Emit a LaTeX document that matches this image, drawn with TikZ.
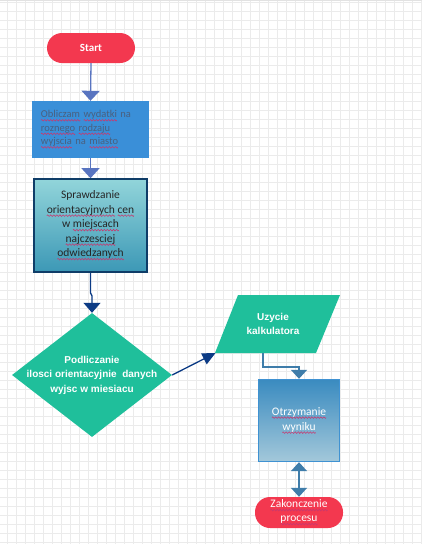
\documentclass[tikz,border=0pt]{standalone}
\usepackage{fontspec}
\setmainfont{Carlito}
\newfontfamily\arialf{Liberation Sans}
\usetikzlibrary{arrows.meta,shapes.geometric}
\definecolor{redc}{HTML}{F3384F}
\definecolor{boxa}{HTML}{3A8FD8}
\definecolor{boxatxt}{HTML}{4A607F}
\definecolor{boxbtop}{HTML}{92D5DA}
\definecolor{boxbbot}{HTML}{3C98B6}
\definecolor{boxbline}{HTML}{0F3D68}
\definecolor{tealc}{HTML}{1FBF9B}
\definecolor{navyc}{HTML}{0C3B85}
\definecolor{arra}{HTML}{5874C0}
\definecolor{arrc}{HTML}{3F7DAA}
\definecolor{boxctop}{HTML}{3A8BC0}
\definecolor{boxcbot}{HTML}{A3C8DA}
\definecolor{boxcline}{HTML}{3F92D2}
\definecolor{gridc}{HTML}{EBEBEB}
\definecolor{gridm}{HTML}{E2E2E2}
\definecolor{squig}{HTML}{C8386E}
\newsavebox\wavebox
\newsavebox\wordbox
\newcommand\sq[1]{\leavevmode\sbox\wordbox{#1}\rlap{\raisebox{-3.3pt}{\hbox to \wd\wordbox{\xleaders\copy\wavebox\hfil}}}\usebox\wordbox}
\begin{document}
\sbox\wavebox{\pgfpicture
  \pgfpathrectangle{\pgfpoint{0pt}{-1pt}}{\pgfpoint{3pt}{2pt}}\pgfusepath{use as bounding box}
  \pgfsetlinewidth{0.55pt}\pgfsetstrokecolor{squig}
  \pgfpathmoveto{\pgfpoint{0pt}{0pt}}
  \pgfpathsine{\pgfpoint{0.75pt}{0.8pt}}
  \pgfpathcosine{\pgfpoint{0.75pt}{-0.8pt}}
  \pgfpathsine{\pgfpoint{0.75pt}{-0.8pt}}
  \pgfpathcosine{\pgfpoint{0.75pt}{0.8pt}}
  \pgfusepath{stroke}
\endpgfpicture}%
\begin{tikzpicture}[x=1pt,y=-1pt,
  pill/.style={rectangle,rounded corners=15pt,fill=redc,text=white,minimum width=88pt,minimum height=30pt,inner sep=0pt},
  boxone/.style={rectangle,fill=boxa,text=boxatxt,minimum width=117pt,minimum height=57pt,text width=99pt,align=left,inner xsep=9pt,inner ysep=0pt,font={\fontsize{10.5}{13.5}\selectfont}},
  boxtwo/.style={rectangle,draw=boxbline,line width=1.6pt,top color=boxbtop,bottom color=boxbbot,text=black!85,minimum width=113pt,minimum height=93pt,align=center,inner sep=0pt,font={\fontsize{11.5}{14.5}\selectfont}},
  boxthree/.style={rectangle,draw=boxcline,line width=1.4pt,top color=boxctop,bottom color=boxcbot,text=white,minimum width=81pt,minimum height=82pt,align=center,inner sep=0pt,font={\fontsize{11.5}{15}\selectfont}},
  dshape/.style={diamond,fill=tealc,minimum width=160pt,minimum height=124pt,inner sep=0pt},
  wtext/.style={text=white,align=center,inner sep=0pt,font={\arialf\bfseries\fontsize{10}{14.5}\selectfont}},
  conA/.style={draw=arra,line width=1.3pt,-{Triangle[width=18pt,length=10pt]}},
  conB/.style={draw=navyc,line width=1.3pt,-{Triangle[width=17pt,length=10pt]}},
  conC/.style={draw=navyc,line width=1.3pt,-{Triangle[width=12pt,length=13pt]}},
  conD/.style={draw=arrc,line width=1.6pt,-{Triangle[width=16pt,length=9pt]}},
  conE/.style={draw=arrc,line width=1.6pt,{Triangle[width=16pt,length=9pt]}-{Triangle[width=16pt,length=9pt]}},
  gridline/.style={draw=gridc,line width=0.6pt}
]
\useasboundingbox (0,0) rectangle (422,544);
\fill[white] (0,0) rectangle (422,544);
\foreach \i in {0,...,46} {\draw[gridline] (7.3+9*\i,0) -- (7.3+9*\i,544);}
\foreach \i in {0,...,60} {\draw[gridline] (0,2.7+9*\i) -- (422,2.7+9*\i);}
\draw[draw=gridm,line width=1pt] (0,0.5) -- (422,0.5);

% nodes
\node[pill,font={\bfseries\fontsize{11}{13}\selectfont}] (start) at (91,48) {Start};
\node[boxone] (b1) at (90.5,129.5) {\sq{Obliczam} \sq{wydatki} na\\\sq{roznego} \sq{rodzaju}\\\sq{wyjscia} na \sq{miasto}};
\node[boxtwo] (b2) at (90.5,225.5) {Sprawdzanie\\\sq{orientacyjnych} \sq{cen}\\w \sq{miejscach}\\\sq{najczesciej}\\\sq{odwiedzanych}};
\node[dshape] (dia) at (92,375) {};
\node[wtext] (diatext) at (dia.center) {Podliczanie\\ilosci orientacyjnie\ \ danych\\wyjsc w miesiacu};
\fill[tealc] (238,295) -- (340,295) -- (316,353) -- (215,353) -- cycle;
\coordinate (paraBL) at (215.5,353);
\coordinate (paraB) at (263,353);
\node[wtext,font={\arialf\bfseries\fontsize{10}{14}\selectfont}] (para) at (273,324) {Uzycie\\kalkulatora};
\node[boxthree] (b3) at (299,420.5) {\sq{Otrzymanie}\\\sq{wyniku}};
\node[pill,font={\fontsize{11.5}{14}\selectfont},align=center,minimum height=31pt] (end) at (299,512.5) {\sq{Zakonczenie}\\\sq{procesu}};

% connectors
\draw[conA] (start.south) -- (b1.north);
\draw[conA] (b1.south) -- (b2.north);
\draw[conB] (b2.south) -- ++(0,20) -- ++(1.5,3) -- (dia.north);
\draw[conC] (dia.east) -- (paraBL);
\draw[conD] (paraB) -- ++(0,14) -| (b3.north);
\draw[conE] (b3.south) -- (end.north);
\end{tikzpicture}
\end{document}
